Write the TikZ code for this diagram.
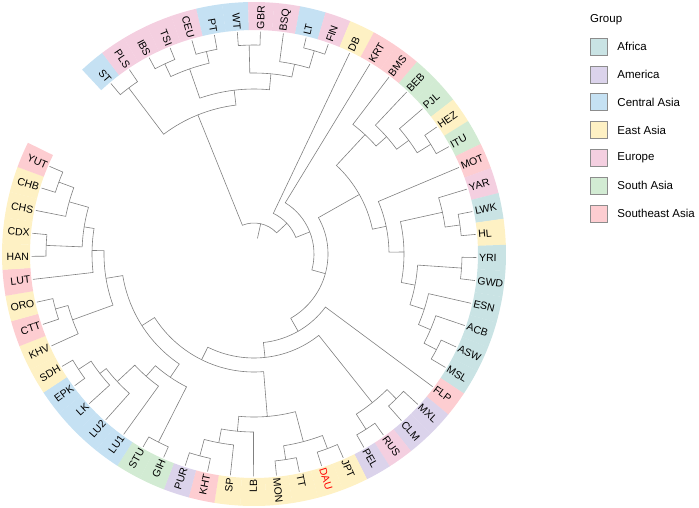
\documentclass[tikz,border=0pt]{standalone}
\usepackage{fontspec}
\setmainfont{Liberation Sans}
\usetikzlibrary{positioning}

\definecolor{afr}{HTML}{C9E3E4}
\definecolor{ame}{HTML}{DBD3EB}
\definecolor{cas}{HTML}{C5E1F3}
\definecolor{eas}{HTML}{FEF1C4}
\definecolor{eur}{HTML}{F4CFE0}
\definecolor{sas}{HTML}{D2EBD3}
\definecolor{sea}{HTML}{FDCDD1}

% tip: band piece, tip point and label
\newcommand\leaf[4][black]{%
  \expandafter\xdef\csname ta#2\endcsname{#3}%
  \fill[#4] (#3-3:224pt) arc[start angle=#3-3, end angle=#3+3, radius=224pt]
    -- (#3+3:252pt) arc[start angle=#3+3, end angle=#3-3, radius=252pt] -- cycle;
  \coordinate (#2) at (#3:222.5pt);
  \pgfmathtruncatemacro\flip{cos(#3)<0}%
  \ifnum\flip=1
    \node[lab, text=#1, anchor=east, rotate=#3+180] (l#2) at (#3:225pt) {#2};
  \else
    \node[lab, text=#1, anchor=west, rotate=#3] (l#2) at (#3:225pt) {#2};
  \fi}

% inner node at radius #2 joining #3 and #4
\newcommand\clade[4]{%
  \edef\aone{\csname ta#3\endcsname}%
  \edef\atwo{\csname ta#4\endcsname}%
  \pgfmathsetmacro\amid{(\aone+\atwo)/2}%
  \expandafter\xdef\csname ta#1\endcsname{\amid}%
  \coordinate (#1) at (\amid:#2pt);
  \draw[branch] (#3) -- (\aone:#2pt) arc[start angle=\aone, end angle=\atwo, radius=#2pt] -- (#4);}

\begin{document}
\begin{tikzpicture}[x=1pt, y=1pt,
  branch/.style={draw=black!50, line width=0.6pt},
  lab/.style={inner sep=0pt, font=\fontsize{10.5}{12}\selectfont},
  key/.style={draw=black!45, line width=0.5pt, minimum size=17pt, inner sep=0pt},
  keytext/.style={font=\fontsize{11.5}{13}\selectfont, inner sep=0pt}]
\useasboundingbox (-254,-253) rectangle (445,254);

% tips
\leaf{ST}{130}{cas}
\leaf{PLS}{124.05}{eur}
\leaf{IBS}{118.1}{eur}
\leaf{TSI}{112.15}{eur}
\leaf{CEU}{106.2}{eur}
\leaf{PT}{100.25}{cas}
\leaf{WT}{94.3}{cas}
\leaf{GBR}{88.35}{eur}
\leaf{BSQ}{82.4}{eur}
\leaf{LT}{76.45}{cas}
\leaf{FIN}{70.5}{eur}
\leaf{DB}{64.55}{eas}
\leaf{KRT}{58.6}{sea}
\leaf{BMS}{52.65}{sea}
\leaf{BEB}{46.7}{sas}
\leaf{PJL}{40.75}{sas}
\leaf{HEZ}{34.8}{eas}
\leaf{ITU}{28.85}{sas}
\leaf{MOT}{22.9}{sea}
\leaf{YAR}{16.95}{eur}
\leaf{LWK}{11}{afr}
\leaf{HL}{5.05}{eas}
\leaf{YRI}{-0.9}{afr}
\leaf{GWD}{-6.85}{afr}
\leaf{ESN}{-12.8}{afr}
\leaf{ACB}{-18.75}{afr}
\leaf{ASW}{-24.7}{afr}
\leaf{MSL}{-30.65}{afr}
\leaf{FLP}{-36.6}{sea}
\leaf{MXL}{-42.55}{ame}
\leaf{CLM}{-48.5}{ame}
\leaf{RUS}{-54.45}{eur}
\leaf{PEL}{-60.4}{ame}
\leaf{JPT}{-66.35}{eas}
\leaf[red]{DAU}{-72.3}{eas}
\leaf{TT}{-78.25}{eas}
\leaf{MON}{-84.2}{eas}
\leaf{LB}{-90.15}{eas}
\leaf{SP}{-96.1}{eas}
\leaf{KHT}{-102.05}{sea}
\leaf{PUR}{-108}{ame}
\leaf{GIH}{-113.95}{sas}
\leaf{STU}{-119.9}{sas}
\leaf{LU1}{-125.85}{cas}
\leaf{LU2}{-131.8}{cas}
\leaf{LK}{-137.75}{cas}
\leaf{EPK}{-143.7}{cas}
\leaf{SDH}{-149.65}{eas}
\leaf{KHV}{-155.6}{eas}
\leaf{CTT}{-161.55}{sea}
\leaf{ORO}{-167.5}{eas}
\leaf{LUT}{-173.45}{sea}
\leaf{HAN}{-179.4}{eas}
\leaf{CDX}{-185.35}{eas}
\leaf{CHS}{-191.3}{eas}
\leaf{CHB}{-197.25}{eas}
\leaf{YUT}{-203.2}{sea}

% europe
\clade{stpls}{208}{ST}{PLS}
\clade{ibstsi}{210}{IBS}{TSI}
\clade{ceupt}{208}{CEU}{PT}
\clade{ibspt}{196}{ibstsi}{ceupt}
\clade{wtgbr}{209}{WT}{GBR}
\clade{ltfin}{212}{LT}{FIN}
\clade{bsqfin}{194}{BSQ}{ltfin}
\clade{wtfin}{181}{wtgbr}{bsqfin}
\clade{eura}{165}{ibspt}{wtfin}
\clade{eurb}{150}{stpls}{eura}

% south asia and africa
\clade{hezitu}{208}{HEZ}{ITU}
\clade{pjlitu}{192}{PJL}{hezitu}
\clade{bebitu}{177}{BEB}{pjlitu}
\clade{bmsitu}{163}{BMS}{bebitu}
\clade{lwkhl}{208}{LWK}{HL}
\clade{yarhl}{193}{YAR}{lwkhl}
\clade{yrigwd}{208}{YRI}{GWD}
\clade{aswmsl}{206}{ASW}{MSL}
\clade{acbmsl}{192}{ACB}{aswmsl}
\clade{esnmsl}{179}{ESN}{acbmsl}
\clade{afrc}{164}{yrigwd}{esnmsl}
\clade{yarafr}{150}{yarhl}{afrc}
\clade{motafr}{135}{MOT}{yarafr}
\clade{bmsafr}{121}{bmsitu}{motafr}

% america
\clade{mxlclm}{203}{MXL}{CLM}
\clade{ruspel}{208}{RUS}{PEL}
\clade{amer}{190}{mxlclm}{ruspel}

% east asia
\clade{jptdau}{208}{JPT}{DAU}
\clade{ttmon}{208}{TT}{MON}
\clade{jptmon}{194}{jptdau}{ttmon}
\clade{khtpur}{209}{KHT}{PUR}
\clade{sppur}{192}{SP}{khtpur}
\clade{lbpur}{178}{LB}{sppur}
\clade{easta}{163}{jptmon}{lbpur}

% central asia and the left side
\clade{gihstu}{211}{GIH}{STU}
\clade{epksdh}{210}{EPK}{SDH}
\clade{lksdh}{195}{LK}{epksdh}
\clade{lu2sdh}{187}{LU2}{lksdh}
\clade{lu1sdh}{163}{LU1}{lu2sdh}
\clade{cent}{149}{gihstu}{lu1sdh}
\clade{cttoro}{206}{CTT}{ORO}
\clade{khvoro}{193}{KHV}{cttoro}
\clade{hancdx}{208}{HAN}{CDX}
\clade{chbyut}{208}{CHB}{YUT}
\clade{chsyut}{192}{CHS}{chbyut}
\clade{hanyut}{172}{hancdx}{chsyut}
\clade{lutyut}{162}{LUT}{hanyut}
\clade{khvyut}{150}{khvoro}{lutyut}
\clade{lfta}{133}{cent}{khvyut}
\clade{lftb}{118}{easta}{lfta}
\clade{lftc}{104}{lftb}{amer}
\clade{lftd}{89}{lftc}{FLP}
\clade{lfte}{74}{bmsafr}{lftd}
\clade{krtn}{60}{KRT}{lfte}
\clade{dbn}{45}{DB}{krtn}
\clade{root}{31}{eurb}{dbn}
\coordinate (base) at (77.55:16pt);
\draw[branch] (base) -- (root);

% legend
\node[keytext, anchor=west] (grp) at (336,234) {Group};
\node[key, fill=afr] (kafr) at (344.5,207.5) {};
\node[key, fill=ame, below=10.3pt of kafr] (kame) {};
\node[key, fill=cas, below=10.3pt of kame] (kcas) {};
\node[key, fill=eas, below=10.3pt of kcas] (keas) {};
\node[key, fill=eur, below=10.3pt of keas] (keur) {};
\node[key, fill=sas, below=10.3pt of keur] (ksas) {};
\node[key, fill=sea, below=10.3pt of ksas] (ksea) {};
\node[keytext, right=10pt of kafr] {Africa};
\node[keytext, right=10pt of kame] {America};
\node[keytext, right=10pt of kcas] {Central Asia};
\node[keytext, right=10pt of keas] {East Asia};
\node[keytext, right=10pt of keur] {Europe};
\node[keytext, right=10pt of ksas] {South Asia};
\node[keytext, right=10pt of ksea] {Southeast Asia};
\end{tikzpicture}
\end{document}
